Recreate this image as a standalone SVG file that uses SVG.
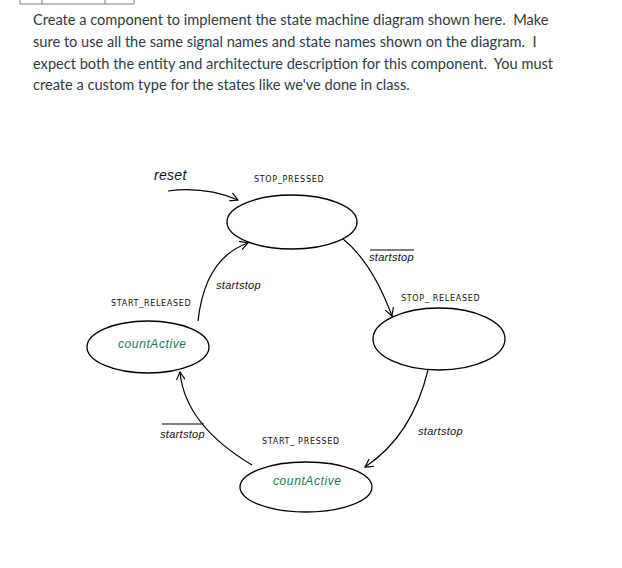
<svg xmlns="http://www.w3.org/2000/svg" width="622" height="568" viewBox="0 0 622 568">
<style>
.para{font-family:Lato,"Open Sans",sans-serif;font-size:14.6px;fill:#2d3b45;white-space:pre}
.st{fill:#fff;stroke:#000;stroke-width:1.3}
.lbl{font-family:"DejaVu Sans","Liberation Sans",sans-serif;font-size:8px;letter-spacing:0.7px;fill:#111}
.sig{font-family:"Liberation Sans",sans-serif;font-style:italic;font-size:11px;letter-spacing:0.3px;fill:#111}
.act{font-family:"Liberation Sans",sans-serif;font-style:italic;font-size:12px;letter-spacing:0.6px;fill:#1a7a55}
.cn{fill:none;stroke:#000;stroke-width:1.2}
.bar{stroke:#000;stroke-width:1}
</style>
<defs>
<marker id="ah" viewBox="0 0 10 10" refX="9" refY="5" markerWidth="9" markerHeight="9" orient="auto" markerUnits="userSpaceOnUse">
<path d="M0,0 L9,5 L0,10" fill="none" stroke="#000" stroke-width="1.3"/>
</marker>
</defs>
<g id="table-fragment" fill="none" stroke="#7a8288" stroke-width="1">
<path d="M20,0 V4 H134 V0 M42,0 V4 M105,0 V4"/>
</g>
<g id="instructions">
<text class="para" x="33" y="25" xml:space="preserve">Create a component to implement the state machine diagram shown here.  Make</text>
<text class="para" x="33" y="47" xml:space="preserve">sure to use all the same signal names and state names shown on the diagram.  I</text>
<text class="para" x="33" y="69" xml:space="preserve">expect both the entity and architecture description for this component.  You must</text>
<text class="para" x="33" y="90" xml:space="preserve">create a custom type for the states like we've done in class.</text>
</g>
<g id="connectors">
<path class="cn" d="M168,191 Q205,186 238,200" marker-end="url(#ah)"/>
<path class="cn" d="M342,238 Q372,262 392,316" marker-end="url(#ah)"/>
<path class="cn" d="M428,370 Q412,436 365,467" marker-end="url(#ah)"/>
<path class="cn" d="M252,465 Q185,425 180,372" marker-end="url(#ah)"/>
<path class="cn" d="M198,321 Q205,258 248,243" marker-end="url(#ah)"/>
<text class="sig" x="154" y="180" style="font-size:14px">reset</text>
<text class="sig" x="369" y="261">startstop</text>
<line class="bar" x1="370" y1="250" x2="414" y2="250"/>
<text class="sig" x="216" y="289">startstop</text>
<text class="sig" x="160" y="438">startstop</text>
<line class="bar" x1="162" y1="424" x2="204" y2="424"/>
<text class="sig" x="418" y="435">startstop</text>
</g>
<g id="STOP_PRESSED">
<ellipse class="st" cx="292" cy="222" rx="65" ry="27"/>
<text class="lbl" x="254" y="182">STOP_PRESSED</text>
</g>
<g id="STOP_RELEASED">
<ellipse class="st" cx="439" cy="339" rx="66" ry="31"/>
<text class="lbl" x="401" y="301">STOP_ RELEASED</text>
</g>
<g id="START_RELEASED">
<ellipse class="st" cx="148" cy="347" rx="61" ry="26"/>
<text class="lbl" x="111" y="306">START_RELEASED</text>
<text class="act" x="118" y="348">countActive</text>
</g>
<g id="START_PRESSED">
<ellipse class="st" cx="306" cy="487" rx="66" ry="25"/>
<text class="lbl" x="262" y="444">START_ PRESSED</text>
<text class="act" x="273" y="485">countActive</text>
</g>
</svg>
